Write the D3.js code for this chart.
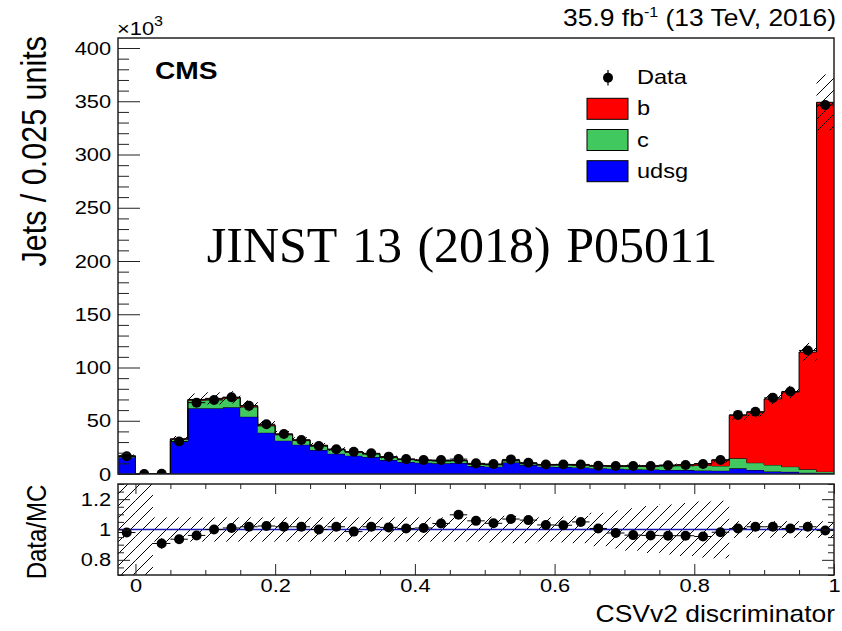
<!DOCTYPE html>
<html>
<head>
<meta charset="utf-8">
<script src="https://cdn.jsdelivr.net/npm/d3@7"></script>
<style>
  body { margin: 0; background: #fff; }
  text { font-family: "Liberation Sans", Arial, Helvetica, sans-serif; fill: #000; }
</style>
</head>
<body>
<svg id="chart" width="842" height="631"></svg>
<script>
'use strict';
// bins of the discriminator: width 0.025 from -0.025 up to 1
var xMin = -0.025, binWidth = 0.025;

// stacked MC, in thousands of jets per bin
var udsg   = [15.8, 0.2, 0.33, 31.0, 61.7, 61.7, 62.6, 53.8, 38.8, 31.3, 27.5, 22.5, 19.0, 17.2, 16.0, 13.2, 11.3, 10.6, 10.0, 10.4,
              7.5, 6.9, 10.8, 8.4, 6.9, 6.6, 6.2, 5.5, 5.0, 4.4, 4.3, 3.8, 3.7, 3.4, 3.1, 5.3, 3.8, 2.4, 2.0, 1.2, 0.7];
var charm  = [1.0, 0, 0.02, 1.7, 7.5, 8.5, 8.6, 9.2, 6.4, 5.5, 3.9, 3.9, 3.7, 3.2, 2.7, 2.3, 2.2, 2.0, 2.2, 2.0,
              1.6, 1.7, 1.6, 1.2, 1.4, 1.8, 1.9, 1.8, 2.2, 2.8, 2.9, 3.8, 4.0, 4.6, 4.5, 9.4, 6.8, 6.1, 4.9, 3.2, 1.5];
var bottom = [0.2, 0, 0, 0.3, 0.8, 0.8, 0.8, 1.0, 0.8, 0.7, 0.6, 0.6, 0.6, 0.6, 0.5, 0.5, 0.5, 0.4, 0.4, 0.4,
              0.4, 0.4, 0.4, 0.4, 0.4, 0.4, 0.5, 0.5, 0.5, 0.6, 0.6, 0.8, 1.1, 1.8, 5.7, 40.5, 47.4, 62.0, 70.1, 110.1, 346.8];
// data, thousands of jets
var data   = [16.7, 0, 0.3, 30.5, 67, 69.5, 72, 64, 46.7, 37.6, 32, 26.3, 23.2, 20.9, 19.4, 16.3, 14, 13.1, 13.1, 14,
              10, 9.4, 13.7, 10.6, 9, 9, 9, 7.8, 7.5, 7.5, 7.5, 8.1, 8.4, 9.4, 13.1, 55.5, 58.5, 71.5, 77.5, 116, 346.5];
// data / MC (null = not drawn)
var ratio  = [0.98, null, 0.908, 0.936, 0.961, 1.0, 1.01, 1.018, 1.023, 1.018, 1.018, 1.0, 1.018, 0.986, 1.018, 1.014, 1.007, 1.01, 1.04, 1.097,
              1.057, 1.041, 1.069, 1.062, 1.03, 1.028, 1.05, 1.007, 0.977, 0.963, 0.961, 0.959, 0.959, 0.954, 0.982, 1.007, 1.018, 1.018, 1.007, 1.018, 0.993];
var ratioErr = [0.012, 0, 0.035, 0.012, 0.008, 0.006, 0.006, 0.006, 0.006, 0.006, 0.006, 0.006, 0.006, 0.006, 0.006, 0.006, 0.006, 0.006, 0.006, 0.006,
              0.006, 0.006, 0.006, 0.006, 0.006, 0.006, 0.006, 0.006, 0.006, 0.006, 0.006, 0.006, 0.006, 0.006, 0.006, 0.004, 0.004, 0.004, 0.004, 0.004, 0.003];
// relative MC uncertainty, upper pad and ratio band
var mcUncTop = [0.08, 0.08, 0.08, 0.08, 0.08, 0.08, 0.08, 0.08, 0.08, 0.08, 0.08, 0.08, 0.08, 0.08, 0.08, 0.08, 0.08, 0.08, 0.08, 0.08,
              0.08, 0.085, 0.09, 0.09, 0.08, 0.085, 0.09, 0.11, 0.125, 0.14, 0.155, 0.165, 0.175, 0.185, 0.19, 0.075, 0.075, 0.075, 0.075, 0.075, 0.075];
var mcUncRatio = [1, 1, 0.08, 0.08, 0.08, 0.08, 0.08, 0.08, 0.08, 0.08, 0.08, 0.08, 0.08, 0.08, 0.08, 0.08, 0.08, 0.08, 0.08, 0.08,
              0.08, 0.085, 0.09, 0.09, 0.08, 0.085, 0.09, 0.11, 0.125, 0.14, 0.155, 0.165, 0.175, 0.185, 0.19, 0.055, 0.055, 0.055, 0.055, 0.055, 0.055];

var yTicksTop = [0, 50, 100, 150, 200, 250, 300, 350, 400];
var yTicksRatio = [0.8, 1, 1.2];
var xTicks = [0, 0.2, 0.4, 0.6, 0.8, 1];
var legendLabels = ['b', 'c', 'udsg'];
var legendColors = ['#ff0000', '#41c85f', '#0000ff'];

var nBins = data.length;
var binEdges = d3.range(nBins + 1).map(function(i) { return +(xMin + i * binWidth).toFixed(4); });
var sx = 1.15;   // the original canvas is a bit stretched horizontally

var svg = d3.select('#chart');

var x = d3.scaleLinear().domain([xMin, 1]).range([118, 834]);
var yTop = d3.scaleLinear().domain([0, 409.4]).range([474, 38]);
var yRat = d3.scaleLinear().domain([0.7, 1.3]).range([575, 484]);

// hatch + clips
var defs = svg.append('defs');
defs.append('pattern')
    .attr('id', 'hatch').attr('patternUnits', 'userSpaceOnUse')
    .attr('width', 12).attr('height', 12)
  .append('path')
    .attr('d', 'M-3,3 L3,-3 M0,12 L12,0 M9,15 L15,9')
    .attr('stroke', '#000').attr('stroke-width', 1);
defs.append('clipPath').attr('id', 'clipTop')
  .append('rect').attr('x', 118).attr('y', 38).attr('width', 716).attr('height', 436);
defs.append('clipPath').attr('id', 'clipRat')
  .append('rect').attr('x', 118).attr('y', 484).attr('width', 716).attr('height', 91);

function stretchText(sel) { sel.attr('transform', 'scale(' + sx + ',1)'); }

// ---------- upper pad ----------
var rows = data.map(function(d, i) { return {udsg: udsg[i], c: charm[i], b: bottom[i]}; });
var layers = d3.stack().keys(['udsg', 'c', 'b'])(rows);
var layerColor = {udsg: '#0000ff', c: '#41c85f', b: '#ff0000'};

function edgeIndex(i) { return Math.min(i, nBins - 1); }

var area = d3.area()
    .curve(d3.curveStepAfter)
    .x(function(d, i) { return x(binEdges[i]); })
    .y0(function(d) { return yTop(d[0]); })
    .y1(function(d) { return yTop(d[1]); });
var topLine = d3.line()
    .curve(d3.curveStepAfter)
    .x(function(d, i) { return x(binEdges[i]); })
    .y(function(d) { return yTop(d[1]); });

var topPad = svg.append('g').attr('clip-path', 'url(#clipTop)');
layers.forEach(function(layer) {
  var pts = binEdges.map(function(e, i) { return layer[edgeIndex(i)]; });
  topPad.append('path').attr('d', area(pts)).attr('fill', layerColor[layer.key]);
  topPad.append('path').attr('d', topLine(pts))
      .attr('fill', 'none').attr('stroke', '#000').attr('stroke-width', 1);
});

// MC uncertainty on the stack
var totals = rows.map(function(r) { return r.udsg + r.c + r.b; });
topPad.selectAll('.unc')
    .data(totals)
  .enter().append('rect')
    .attr('x', function(d, i) { return x(binEdges[i]); })
    .attr('width', function(d, i) { return x(binEdges[i + 1]) - x(binEdges[i]); })
    .attr('y', function(d, i) { return yTop(d * (1 + mcUncTop[i])); })
    .attr('height', function(d, i) { return yTop(d * (1 - mcUncTop[i])) - yTop(d * (1 + mcUncTop[i])); })
    .attr('fill', 'url(#hatch)');

// data points
var dataPts = topPad.selectAll('.data').data(data).enter().append('g');
dataPts.append('line')
    .attr('x1', function(d, i) { return x(binEdges[i]); })
    .attr('x2', function(d, i) { return x(binEdges[i + 1]); })
    .attr('y1', function(d) { return yTop(d); })
    .attr('y2', function(d) { return yTop(d); })
    .attr('stroke', '#000').attr('stroke-width', 1);
dataPts.append('circle')
    .attr('cx', function(d, i) { return x(binEdges[i] + binWidth / 2); })
    .attr('cy', function(d) { return yTop(d); })
    .attr('r', 5).attr('fill', '#000');

// axes of upper pad
var axTop = svg.append('g').attr('transform', 'translate(118,0)')
    .call(d3.axisLeft(yTop).tickValues(yTicksTop).tickSize(-22).tickPadding(6).tickFormat(function(d) { return d; }));
svg.append('g').attr('transform', 'translate(118,0)')
    .call(d3.axisLeft(yTop).tickValues(d3.range(0, 410, 10).filter(function(v) { return v % 50; }))
          .tickSize(-11).tickFormat(''));
svg.selectAll('.domain').remove();
axTop.selectAll('text').style('font-size', '19px').call(stretchText);

svg.append('rect').attr('x', 118).attr('y', 38).attr('width', 716).attr('height', 436)
    .attr('fill', 'none').attr('stroke', '#222').attr('stroke-width', 1.5);

// ---------- ratio pad ----------
var rat = svg.append('g').attr('clip-path', 'url(#clipRat)');
rat.selectAll('.band')
    .data(mcUncRatio)
  .enter().append('rect')
    .attr('x', function(d, i) { return x(binEdges[i]); })
    .attr('width', function(d, i) { return x(binEdges[i + 1]) - x(binEdges[i]); })
    .attr('y', function(d) { return yRat(1 + d); })
    .attr('height', function(d) { return yRat(1 - d) - yRat(1 + d); })
    .attr('fill', 'url(#hatch)');
rat.append('line')
    .attr('x1', x(xMin)).attr('x2', x(1)).attr('y1', yRat(1)).attr('y2', yRat(1))
    .attr('stroke', '#1a1ab4').attr('stroke-width', 1.3);

var ratioPts = ratio.map(function(r, i) { return {r: r, e: ratioErr[i], i: i}; })
    .filter(function(d) { return d.r !== null; });
var rp = rat.selectAll('.rp').data(ratioPts).enter().append('g');
rp.append('line')
    .attr('x1', function(d) { return x(binEdges[d.i]); })
    .attr('x2', function(d) { return x(binEdges[d.i + 1]); })
    .attr('y1', function(d) { return yRat(d.r); })
    .attr('y2', function(d) { return yRat(d.r); })
    .attr('stroke', '#000').attr('stroke-width', 1);
rp.append('line')
    .attr('x1', function(d) { return x(binEdges[d.i] + binWidth / 2); })
    .attr('x2', function(d) { return x(binEdges[d.i] + binWidth / 2); })
    .attr('y1', function(d) { return yRat(d.r - d.e); })
    .attr('y2', function(d) { return yRat(d.r + d.e); })
    .attr('stroke', '#000').attr('stroke-width', 1);
rp.append('circle')
    .attr('cx', function(d) { return x(binEdges[d.i] + binWidth / 2); })
    .attr('cy', function(d) { return yRat(d.r); })
    .attr('r', 5).attr('fill', '#000');

var minorX = d3.range(0, 21).map(function(i) { return i * 0.05; })
    .filter(function(v) { return Math.abs(v * 5 - Math.round(v * 5)) > 1e-6; });
var minorYR = [0.7, 0.75, 0.85, 0.9, 0.95, 1.05, 1.1, 1.15, 1.25, 1.3];

var axRY = svg.append('g').attr('transform', 'translate(118,0)')
    .call(d3.axisLeft(yRat).tickValues(yTicksRatio).tickSize(-12).tickPadding(6).tickFormat(function(d) { return d; }));
axRY.selectAll('text').style('font-size', '19px').call(stretchText);
svg.append('g').attr('transform', 'translate(118,0)')
    .call(d3.axisLeft(yRat).tickValues(minorYR).tickSize(-6).tickFormat(''));
svg.append('g').attr('transform', 'translate(834,0)')
    .call(d3.axisRight(yRat).tickValues(yTicksRatio).tickSize(-12).tickFormat(''));
svg.append('g').attr('transform', 'translate(834,0)')
    .call(d3.axisRight(yRat).tickValues(minorYR).tickSize(-6).tickFormat(''));

var axRX = svg.append('g').attr('transform', 'translate(0,575)')
    .call(d3.axisBottom(x).tickValues(xTicks).tickSize(-11).tickPadding(3).tickFormat(function(d) { return d; }));
axRX.selectAll('text').style('font-size', '19px').call(stretchText);
svg.append('g').attr('transform', 'translate(0,575)')
    .call(d3.axisBottom(x).tickValues(minorX).tickSize(-5).tickFormat(''));
svg.append('g').attr('transform', 'translate(0,484)')
    .call(d3.axisTop(x).tickValues(xTicks).tickSize(-10).tickFormat(''));
svg.append('g').attr('transform', 'translate(0,484)')
    .call(d3.axisTop(x).tickValues(minorX).tickSize(-5).tickFormat(''));
svg.selectAll('.domain').remove();
svg.selectAll('.tick line').attr('stroke', '#222');

svg.append('rect').attr('x', 118).attr('y', 484).attr('width', 716).attr('height', 91)
    .attr('fill', 'none').attr('stroke', '#222').attr('stroke-width', 1.5);

// ---------- texts ----------
function addText(px, py, str, size, anchor, extra) {
  return svg.append('text')
      .attr('transform', 'translate(' + px + ',' + py + ')' + (extra || ' scale(' + sx + ',1)'))
      .attr('text-anchor', anchor || 'start')
      .style('font-size', size + 'px')
      .text(str);
}

// luminosity title
var lumi = svg.append('text')
    .attr('transform', 'translate(836,26) scale(' + sx + ',1)')
    .attr('text-anchor', 'end')
    .style('font-size', '23px');
lumi.append('tspan').text('35.9 fb');
lumi.append('tspan').attr('dy', -9).style('font-size', '14px').text('-1');
lumi.append('tspan').attr('dy', 9).text(' (13 TeV, 2016)');

// exponent above y axis
var expo = svg.append('text')
    .attr('transform', 'translate(117,35) scale(' + sx + ',1)')
    .style('font-size', '19px');
expo.append('tspan').text('\u00d710');
expo.append('tspan').attr('dy', -9).style('font-size', '14px').text('3');

addText(155, 78.5, 'CMS', 24.5).style('font-weight', 'bold');

addText(46, 36, 'Jets / 0.025 units', 30.5, 'end', ' rotate(-90) scale(1,' + sx + ')');
addText(46, 532, 'Data/MC', 24, 'middle', ' rotate(-90) scale(1,' + sx + ')');
addText(835, 621.5, 'CSVv2 discriminator', 23, 'end');

// watermark
svg.append('text')
    .attr('x', 462).attr('y', 262)
    .attr('text-anchor', 'middle')
    .style('font-family', '"Liberation Serif", "Times New Roman", serif')
    .style('font-size', '50px')
    .style('word-spacing', '3px')
    .text('JINST 13 (2018) P05011');

// ---------- legend ----------
var leg = svg.append('g');
leg.append('line').attr('x1', 608).attr('x2', 608).attr('y1', 70).attr('y2', 85.5)
    .attr('stroke', '#000').attr('stroke-width', 1.2);
leg.append('circle').attr('cx', 608).attr('cy', 77.7).attr('r', 5).attr('fill', '#000');
addText(637, 83.5, 'Data', 20.5);
legendLabels.forEach(function(lab, i) {
  var cy = 108.8 + i * 31.2;
  leg.append('rect').attr('x', 587).attr('y', cy - 10.5).attr('width', 41).attr('height', 21)
      .attr('fill', legendColors[i]).attr('stroke', '#000').attr('stroke-width', 1);
  addText(637, cy + 6.5, lab, 20.5);
});
</script>
</body>
</html>
